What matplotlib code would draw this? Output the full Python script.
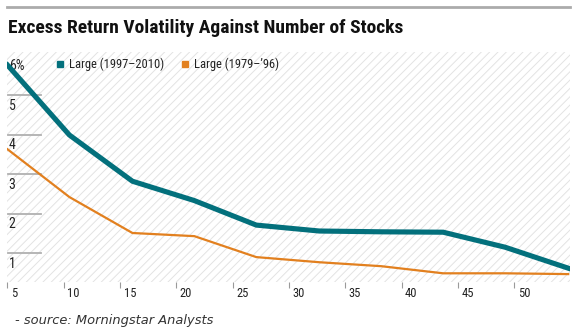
import matplotlib
matplotlib.use("Agg")
import matplotlib.pyplot as plt
from matplotlib.lines import Line2D
from matplotlib.transforms import ScaledTranslation
import matplotlib.font_manager as fm

# ---- data ----
num_stocks = [5, 10.5, 16.1, 21.6, 27.1, 32.7, 38.2, 43.7, 49.2, 54.8]
large_1997_2010 = [5.76, 3.99, 2.82, 2.33, 1.71, 1.56, 1.54, 1.53, 1.15, 0.62]
large_1979_96 = [3.63, 2.42, 1.51, 1.43, 0.90, 0.77, 0.67, 0.49, 0.49, 0.47]
series_labels = ["Large (1997\u20132010)", "Large (1979\u2013\u201996)"]
y_ticks = [1, 2, 3, 4, 5, 6]
y_tick_labels = ["1", "2", "3", "4", "5", "6%"]
x_ticks = [5, 10, 15, 20, 25, 30, 35, 40, 45, 50]
title = "Excess Return Volatility Against Number of Stocks"
source = "- source: Morningstar Analysts"

names = {f.name for f in fm.fontManager.ttflist}
cond = "Roboto"
for cand in ["Roboto Condensed", "Liberation Sans Narrow", "Open Sans Condensed", "Roboto"]:
    if cand in names:
        cond = cand
        break
is_cond = cond != "Roboto"

teal = "#03707c"
orange = "#e2801f"
txt = "#222222"

plt.rcParams["hatch.linewidth"] = 0.7
plt.rcParams["hatch.color"] = "#e3e3e3"

fig = plt.figure(figsize=(5.74, 3.34), dpi=100)
ax = fig.add_axes([7 / 574, 1 - 282 / 334, 563 / 574, 230 / 334])
ax.set_xlim(4.96, 54.96)
ax.set_ylim(0.27, 6.09)
ax.patch.set_facecolor("white")
ax.patch.set_hatch("////")
ax.patch.set_edgecolor("#e3e3e3")
ax.patch.set_linewidth(0)
for s in ax.spines.values():
    s.set_visible(False)

lab_size = 10 if is_cond else 9.5
for v in y_ticks[:-1]:
    ax.axhline(v, xmin=0.002, xmax=0.06, color="#b0b0b0", lw=1.3, zorder=1)
for v, lab in zip(y_ticks, y_tick_labels):
    ax.annotate(lab, (0.003, v), xycoords=ax.get_yaxis_transform(),
                xytext=(0, -2.5), textcoords="offset points",
                ha="left", va="top", fontsize=lab_size, color=txt, family=cond, zorder=2)

ax.plot(num_stocks, large_1979_96, color=orange, lw=1.6, zorder=3,
        solid_joinstyle="miter")
ax.plot(num_stocks, large_1997_2010, color=teal, lw=3.7, zorder=4,
        solid_joinstyle="miter")

ax.set_yticks([])
ax.set_xticks(x_ticks)
ax.set_xticklabels([str(t) for t in x_ticks], fontsize=9 if is_cond else 8.5,
                   color=txt, family=cond)
ax.tick_params(axis="x", direction="out", length=4.5, width=0.8, color="#9a9a9a", pad=-1)
off = ScaledTranslation(2.5 / 72, 0, fig.dpi_scale_trans)
for lab in ax.get_xticklabels():
    lab.set_horizontalalignment("left")
    lab.set_transform(lab.get_transform() + off)

handles = [Line2D([], [], ls="none", marker="s", ms=4.5, color=teal),
           Line2D([], [], ls="none", marker="s", ms=4.5, color=orange)]
leg = ax.legend(handles, series_labels, loc="upper left", ncol=2,
                bbox_to_anchor=(56 / 574, 1 - 58 / 334), bbox_transform=fig.transFigure,
                frameon=False, handlelength=0.7, handletextpad=0.35, columnspacing=1.3,
                prop={"family": cond, "size": 9 if is_cond else 8}, borderaxespad=0, borderpad=0)
for t in leg.get_texts():
    t.set_color(txt)

fig.add_artist(Line2D([7 / 574, 570 / 574], [1 - 7 / 334, 1 - 7 / 334],
                      color="#ababab", lw=2, transform=fig.transFigure))
fig.text(8 / 574, 1 - 33 / 334, title, fontsize=14 if is_cond else 12.5, fontweight="bold",
         family=cond, color="#111111", ha="left", va="baseline")
fig.text(15 / 574, 1 - 324 / 334, source, fontsize=9.4, style="italic",
         family="DejaVu Sans", color="#333333", ha="left", va="baseline")

fig.savefig("out.png", dpi=100)
